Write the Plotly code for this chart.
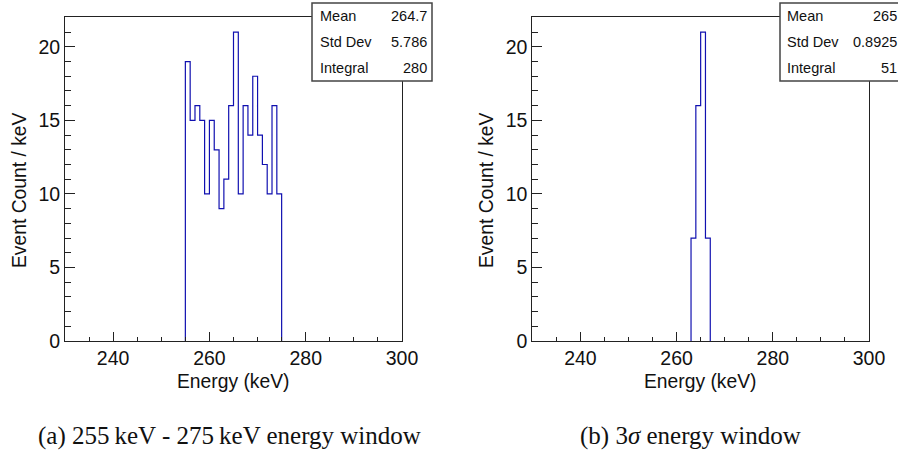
import plotly.graph_objects as go

# ---- data ----
energy_range = [230, 300]
y_range = [0, 22.05]
bin_width = 1.0
low_a = 255
counts_a = [19, 15, 16, 15, 10, 15, 13, 9, 11, 16, 21, 10, 16, 14, 18, 14, 12, 10, 16, 10]
low_b = 263
counts_b = [7, 16, 21, 7]
stat_labels = ["Mean", "Std Dev", "Integral"]
stats_a = ["264.7", "5.786", "280"]
stats_b = ["265", "0.8925", "51"]
captions = ["(a) 255\u2009keV - 275\u2009keV energy window", "(b) 3<i>σ</i> energy window"]
x_title = "Energy (keV)"
y_title = "Event Count / keV"

W, H = 898, 454
def px(x):
    return x / W
def py(y):
    return 1 - y / H

def step(low, counts):
    xs = [low]
    ys = [0]
    for i, c in enumerate(counts):
        xs.append(low + i * bin_width)
        ys.append(c)
    end = low + len(counts) * bin_width
    xs += [end, end]
    ys += [counts[-1], 0]
    return xs, ys

fig = go.Figure()
HCOL = "#1010b0"
for (low, counts), xa, ya in [((low_a, counts_a), "x", "y"), ((low_b, counts_b), "x2", "y2")]:
    xs, ys = step(low, counts)
    fig.add_trace(go.Scatter(x=xs, y=ys, mode="lines", line=dict(color=HCOL, width=1.2, shape="hv"),
                             xaxis=xa, yaxis=ya, showlegend=False, hoverinfo="skip"))

AX = "#222222"
TICKFONT = dict(family="Liberation Sans, Arial, sans-serif", size=19.5, color="#111")
common_x = dict(range=energy_range, dtick=20, tick0=0, ticks="inside", ticklen=9, tickwidth=1,
                tickcolor=AX, showline=True, linecolor=AX, linewidth=1, mirror=True,
                showgrid=False, zeroline=False, tickfont=TICKFONT,
                minor=dict(dtick=5, ticks="inside", ticklen=4.5, tickcolor=AX, showgrid=False))
common_y = dict(range=y_range, dtick=5, tick0=0, ticks="inside", ticklen=10, tickwidth=1,
                tickcolor=AX, showline=True, linecolor=AX, linewidth=1, mirror=True,
                showgrid=False, zeroline=False, tickfont=TICKFONT,
                minor=dict(dtick=1, ticks="inside", ticklen=5.5, tickcolor=AX, showgrid=False))

x_dom_a = [px(65), px(402)]
x_dom_b = [px(532.3), px(869)]
y_dom = [py(341), py(16.7)]

fig.update_layout(
    width=W, height=H, margin=dict(l=0, r=0, t=0, b=0, autoexpand=False),
    paper_bgcolor="white", plot_bgcolor="white",
    xaxis=dict(domain=x_dom_a, anchor="y", **common_x),
    yaxis=dict(domain=y_dom, anchor="x", **common_y),
    xaxis2=dict(domain=x_dom_b, anchor="y2", **common_x),
    yaxis2=dict(domain=y_dom, anchor="x2", **common_y),
)

shapes = []
annotations = []
LBLFONT = dict(family="Liberation Sans, Arial, sans-serif", size=19.3, color="#111")
STATFONT = dict(family="Liberation Sans, Arial, sans-serif", size=14.5, color="#111")
CAPFONT = dict(family="Liberation Serif, Times New Roman, serif", size=25, color="#111")

# stat boxes
boxes = [(312, 432, 318, 429, stats_a), (780, 900, 785, 898.5, stats_b)]
row_y = [16, 42, 68]
for x0, x1, lx, rx, vals in boxes:
    shapes.append(dict(type="rect", xref="paper", yref="paper", x0=px(x0), x1=px(x1),
                       y0=py(81), y1=py(3), fillcolor="white", line=dict(color="#444", width=1.5),
                       layer="above"))
    for lab, val, yy in zip(stat_labels, vals, row_y):
        annotations.append(dict(text=lab, x=px(lx), y=py(yy), xref="paper", yref="paper",
                                xanchor="left", yanchor="middle", showarrow=False, font=STATFONT))
        annotations.append(dict(text=val, x=px(rx), y=py(yy), xref="paper", yref="paper",
                                xanchor="right", yanchor="middle", showarrow=False, font=STATFONT))

# axis titles
for cx in [233.5, 700.6]:
    annotations.append(dict(text=x_title, x=px(cx), y=py(381), xref="paper", yref="paper",
                            xanchor="center", yanchor="middle", showarrow=False, font=LBLFONT))
for cx in [20, 487]:
    annotations.append(dict(text=y_title, x=px(cx), y=py(190), xref="paper", yref="paper",
                            xanchor="center", yanchor="middle", showarrow=False, font=LBLFONT,
                            textangle=-90))
# captions
for cap, cx in zip(captions, [229, 690]):
    annotations.append(dict(text=cap, x=px(cx), y=py(436), xref="paper", yref="paper",
                            xanchor="center", yanchor="middle", showarrow=False, font=CAPFONT))

fig.update_layout(shapes=shapes, annotations=annotations)
fig.write_html("out.html")
